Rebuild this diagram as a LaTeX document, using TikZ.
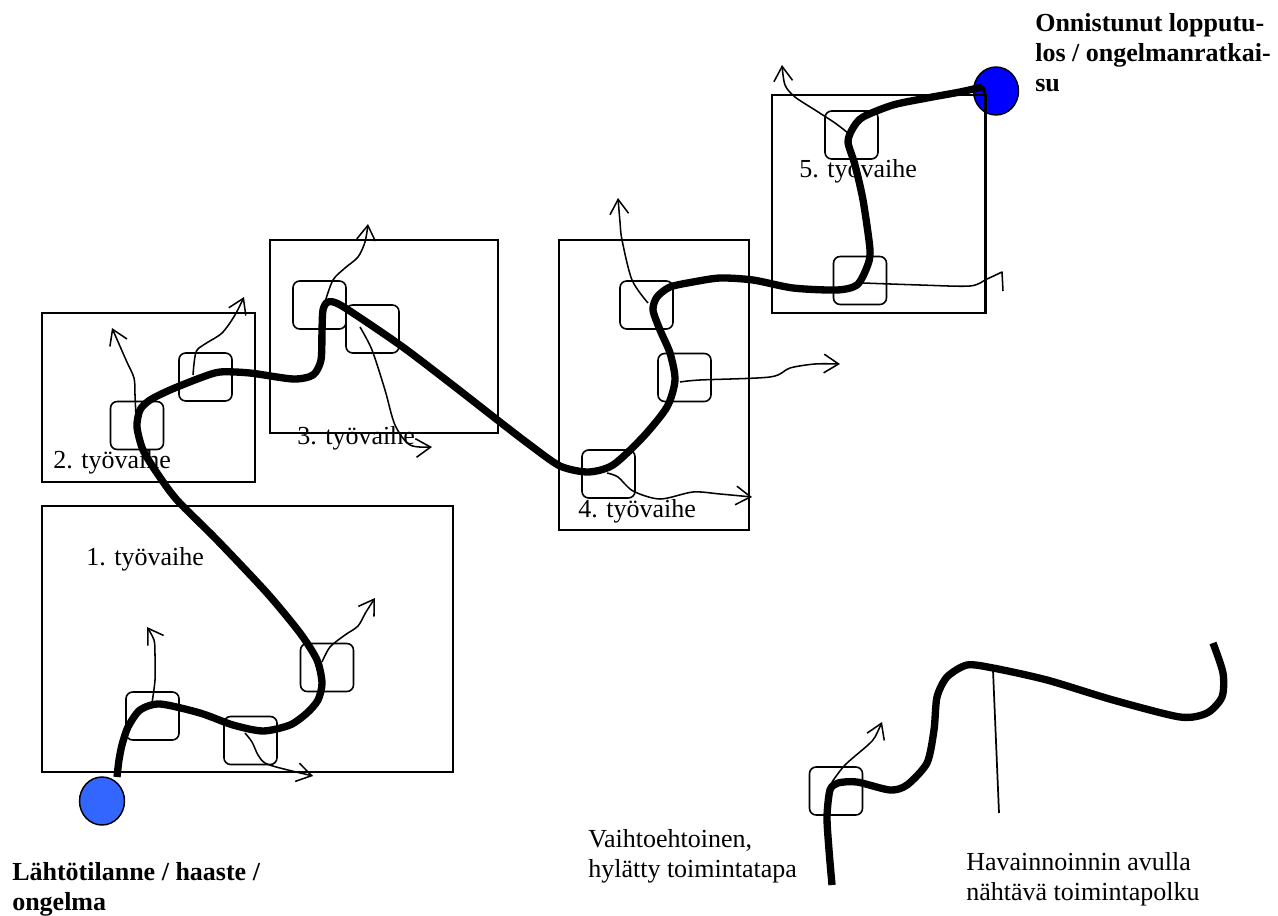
\documentclass[tikz,border=0pt]{standalone}
\usepackage{fontspec}
\setmainfont{Liberation Serif}
\usetikzlibrary{arrows.meta,shapes.geometric}

\definecolor{startblue}{HTML}{3366FF}
\definecolor{goalblue}{HTML}{0000FF}

\tikzset{
  label text/.style={inner sep=0pt, align=left, anchor=base west,
    font=\fontsize{19.5pt}{22.5pt}\selectfont},
  bold text/.style={label text, font=\fontsize{19.5pt}{22.5pt}\selectfont\bfseries},
  phasebox/.style 2 args={draw, line width=1.4pt, inner sep=0pt,
    minimum width=#1*0.75pt, minimum height=#2*0.75pt},
  stepbox/.style={draw, line width=1.2pt, rounded corners=5pt, inner sep=0pt,
    minimum width=39.75pt, minimum height=36pt},
  dot/.style={draw, line width=1.1pt, ellipse, inner sep=0pt,
    minimum width=33.75pt, minimum height=36pt},
  mainpath/.style={line width=5.5pt, line join=round},
  branch/.style={line width=1.15pt, -{Straight Barb[length=11pt,width=14pt,line width=1.15pt]}},
}

\begin{document}
\begin{tikzpicture}[x=0.75pt,y=-0.75pt]
\useasboundingbox (0,0) rectangle (1278,916);

% start and goal
\node[dot, fill=startblue] (start) at (102,801) {};
\node[dot, fill=goalblue] (goal) at (996,91) {};

% work phases
\node[phasebox={411}{266}] (p1) at (247.5,639) {};
\node[phasebox={213}{169}] (p2) at (148.5,397.5) {};
\node[phasebox={228}{193}] (p3) at (384,336.5) {};
\node[phasebox={190}{290}] (p4) at (654,385) {};
\node[phasebox={213}{218}] (p5) at (878.5,204) {};

% decision points
\node[stepbox] (a) at (152.5,716) {};
\node[stepbox] (b) at (250.5,740.5) {};
\node[stepbox] (c) at (327,667.5) {};
\node[stepbox] (d) at (137,425.5) {};
\node[stepbox] (e) at (205.5,377) {};
\node[stepbox] (f) at (319.5,305) {};
\node[stepbox] (g) at (372.5,329) {};
\node[stepbox] (h) at (646.5,305) {};
\node[stepbox] (i) at (684.5,377.5) {};
\node[stepbox] (j) at (608.5,474) {};
\node[stepbox] (k) at (851.5,135) {};
\node[stepbox] (l) at (860,280.5) {};
\node[stepbox] (m) at (836,791) {};

% phase labels
\node[label text] (t1) at (86,565) {1. työvaihe};
\node[label text] (t2) at (53,468) {2. työvaihe};
\node[label text] (t3) at (297,444) {3. työvaihe};
\node[label text] (t4) at (578,517) {4. työvaihe};
\node[label text] (t5) at (799,178) {5. työvaihe};

% rejected alternatives
\draw[branch] plot[smooth, tension=0.5] coordinates {(152,703) (155,680) (155,655) (154,640) (147,627)};
\draw[branch] plot[smooth, tension=0.5] coordinates {(322,662) (330,647) (345,635) (358,626) (366,612) (375,598)};
\draw[branch] plot[smooth, tension=0.5] coordinates {(245,733) (252,742) (258,755) (265,763) (280,768) (313,776)};
\draw[branch] plot[smooth, tension=0.5] coordinates {(136,418) (135,395) (134,378) (126,360) (112,328)};
\draw[branch] plot[smooth, tension=0.5] coordinates {(193,375) (196,352) (205,344) (222,333) (235,315) (244,297)};
\draw[branch] plot[smooth, tension=0.5] coordinates {(325,302) (333,280) (345,268) (358,257) (365,242) (368,224)};
\draw[branch] plot[smooth, tension=0.5] coordinates {(360,327) (372,350) (385,390) (395,425) (410,445) (432,447)};
\draw[branch] plot[smooth, tension=0.5] coordinates {(648,303) (632,280) (622,240) (620,222) (618,198)};
\draw[branch] plot[smooth, tension=0.5] coordinates {(680,382) (700,380) (770,377) (790,368) (815,364) (840,364)};
\draw[branch] plot[smooth, tension=0.5] coordinates {(607,473) (618,477) (633,491) (660,499) (693,492) (720,494) (752,497)};
\draw[branch] plot[smooth, tension=0.5] coordinates {(848,133) (835,123) (815,110) (795,97) (785,85) (782,65)};
\draw[line width=1.15pt, line join=round] plot[smooth, tension=0.5] coordinates {(863,283) (920,285) (970,286) (987,279) (1002,272)} -- (1003,291);
\draw[branch] plot[smooth, tension=0.5] coordinates {(832,782) (845,765) (868,745) (875,737) (882,722)};

% observed path of action
\draw[mainpath] plot[smooth, tension=0.45] coordinates {
  (117,777) (119,760) (122,745) (128,727) (140,710) (160,704) (200,713) (233,725)
  (263,731) (290,725) (307,713) (318,700) (322,683) (317,660) (300,633) (267,593)
  (217,540) (177,500) (157,473) (143,450) (137,427) (140,410) (150,400) (170,390)
  (200,378) (220,372) (250,373) (293,379) (313,375) (321,360) (322,330) (323,310)
  (328,302) (342,306) (400,345) (450,383) (500,422) (530,445) (560,466) (588,472)
  (613,465) (643,437) (667,407) (675,380) (670,353) (660,330) (653,310) (657,297)
  (670,287) (693,282) (720,278) (753,280) (793,288) (837,290) (857,285) (867,267)
  (870,250) (863,200) (855,165) (848,142) (853,128) (863,117) (893,105) (927,98)
  (960,92) (982,87)};
% small hook where the path meets the goal
\draw[line width=2.2pt, line join=round] (978,88) .. controls (983,85) and (985,88) .. (984,94);

% goal edge of the last phase stays on top
\draw[line width=1.4pt] (p5.north east) -- (p5.south east);

% legend
\draw[mainpath] plot[smooth, tension=0.45] coordinates {
  (832,885) (829,850) (827,817) (830,790) (838,783) (857,782) (890,790) (907,785)
  (927,763) (934,730) (937,697) (947,677) (967,665) (993,668) (1047,680) (1113,700)
  (1180,717) (1207,713) (1222,697) (1223,673) (1213,643)};
\coordinate (ptop) at (993,670);
\coordinate (pbot) at (999,813);
\draw[line width=1.3pt] (ptop) -- (pbot);

% captions (anchored at the baseline of their last line)
\node[bold text] (lstart) at (12,910) {Lähtötilanne / haaste /\\ongelma};
\node[bold text] (lgoal) at (1035,92) {Onnistunut lopputu-\\los / ongelmanratkai-\\su};
\node[label text] (lalt) at (588,877) {Vaihtoehtoinen,\\hylätty toimintatapa};
\node[label text] (lobs) at (966,900) {Havainnoinnin avulla\\nähtävä toimintapolku};
\end{tikzpicture}
\end{document}
